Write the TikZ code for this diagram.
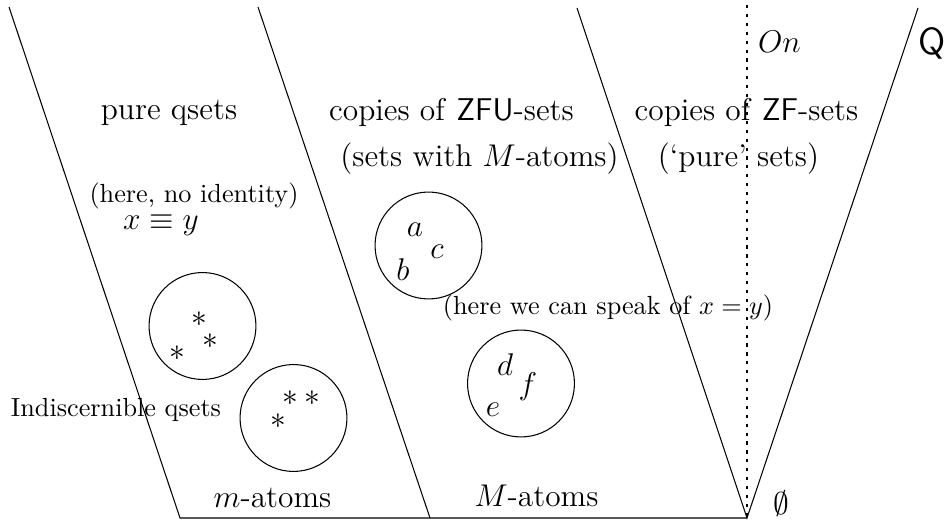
\documentclass[tikz,border=0pt]{standalone}
\begin{document}
\begin{tikzpicture}[x=0.3817pt,y=-0.3817pt,
  lbl/.style={inner sep=0pt, anchor=base, font=\large},
  sm/.style={inner sep=0pt, anchor=base, font=\normalsize},
  elem/.style={inner sep=0pt, font=\large},
  qset/.style={circle, draw, inner sep=0pt, minimum size=40.8pt},
  dotline/.style={dash pattern=on 1.2pt off 2.2pt}]
\useasboundingbox (0,0) rectangle (948,523);
% boundary lines
\coordinate (t1) at (9,7);    \coordinate (b1) at (180,518);
\coordinate (t2) at (258,7);  \coordinate (b2) at (430,518);
\coordinate (t3) at (577,8);  \coordinate (v)  at (747,518);
\coordinate (t4) at (918,8);  \coordinate (dtop) at (747,5);
\draw (t1) -- (b1) -- (v);
\draw (t2) -- (b2);
\draw (t3) -- (v) -- (t4);
\draw[dotline] (dtop) -- (v);
% region labels
\node[lbl] (pure) at (169,120) {pure qsets};
\node[sm]  (noid) at (194,203) {(here, no identity)};
\node[lbl] (equiv) at (161,230) {$x\equiv y$};
\node[lbl] (zfu) at (451.5,121) {copies of \textsf{ZFU}-sets};
\node[lbl] (matoms) at (479.5,167) {(sets with $M$-atoms)};
\node[lbl] (zf) at (746.5,121) {copies of \textsf{ZF}-sets};
\node[lbl] (pureset) at (738.5,167) {(`pure' sets)};
\node[lbl] (on) at (779.5,53) {$On$};
\node[inner sep=0pt, anchor=base, font=\Large\sffamily] (Q) at (932.5,55) {Q};
\node[sm] (speak) at (608,315) {(here we can speak of $x=y$)};
\node[sm] (indis) at (116,417) {Indiscernible qsets};
\node[lbl] (ma) at (272.5,508) {$m$-atoms};
\node[lbl] (Ma) at (536.5,507) {$M$-atoms};
\node[elem] (empty) at (781,504) {$\emptyset$};
% qsets
\node[qset] (q1) at (202.5,326) {};
\node[elem] at (199,319) {$*$};
\node[elem] at (210,341) {$*$};
\node[elem] at (177,353) {$*$};
\node[qset] (q2) at (293.5,418) {};
\node[elem] at (290,398) {$*$};
\node[elem] at (312,398) {$*$};
\node[elem] at (278,421) {$*$};
% sets
\node[qset] (s1) at (428.5,245.5) {};
\node[elem] at (415,230) {$a$};
\node[elem] at (437,252) {$c$};
\node[elem] at (403,270) {$b$};
\node[qset] (s2) at (521,383.5) {};
\node[elem] at (505,365) {$d$};
\node[elem] at (528,387) {$f$};
\node[elem] at (493,410) {$e$};
\end{tikzpicture}
\end{document}
